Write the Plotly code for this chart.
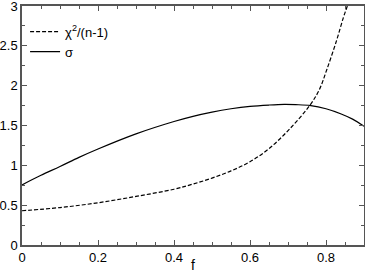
import plotly.graph_objects as go

# chi^2/(n-1) curve (dashed)
f_chi = [0, 0.1, 0.2, 0.3, 0.4, 0.45, 0.5, 0.55, 0.6, 0.65, 0.705, 0.758,
         0.782, 0.802, 0.828, 0.846, 0.856, 0.87]
chi = [0.43, 0.47, 0.53, 0.61, 0.70, 0.765, 0.84, 0.93, 1.045, 1.21, 1.46, 1.757,
       1.945, 2.2, 2.57, 2.86, 3.0, 3.25]

# sigma curve (solid)
f_sig = [0, 0.05, 0.1, 0.15, 0.2, 0.3, 0.4, 0.45, 0.5, 0.55, 0.6, 0.65, 0.69,
         0.72, 0.76, 0.8, 0.84, 0.87, 0.9]
sigma = [0.755, 0.875, 0.985, 1.10, 1.205, 1.395, 1.55, 1.615, 1.668, 1.71, 1.74, 1.757, 1.765,
         1.762, 1.75, 1.71, 1.645, 1.58, 1.49]

font = "Liberation Sans, Arial"

fig = go.Figure()
fig.add_trace(go.Scatter(x=f_chi, y=chi, mode="lines", name="χ<sup>2</sup>/(n-1)",
                         line=dict(color="black", width=1.2, dash="4px,2px", shape="spline")))
fig.add_trace(go.Scatter(x=f_sig, y=sigma, mode="lines", name="σ",
                         line=dict(color="black", width=1.2, shape="spline")))

axis_style = dict(showgrid=False, zeroline=False, showline=True, linecolor="#555",
                  linewidth=1.5, mirror="allticks", ticks="inside", ticklen=5,
                  tickcolor="#555", tickwidth=1, automargin=False,
                  ticklabeloverflow="allow",
                  tickfont=dict(family=font, size=13, color="black"))

fig.update_xaxes(range=[0, 0.9], dtick=0.2, tick0=0,
                 minor=dict(dtick=0.05, ticks="inside", ticklen=3, tickcolor="#555"),
                 title=dict(text="f", standoff=0, font=dict(family=font, size=14, color="black")),
                 **axis_style)
fig.update_yaxes(range=[0, 3], dtick=0.5, tick0=0,
                 minor=dict(dtick=0.25, ticks="inside", ticklen=3, tickcolor="#555"),
                 **axis_style)

fig.update_layout(
    width=365, height=273,
    margin=dict(l=22, r=1, t=6, b=28),
    plot_bgcolor="white", paper_bgcolor="white",
    legend=dict(x=0.009, y=0.955, xanchor="left", yanchor="top",
                bgcolor="rgba(0,0,0,0)", tracegroupgap=0, itemwidth=30,
                font=dict(family=font, size=13, color="black")),
)

fig.write_html("out.html", config={"displayModeBar": False},
               post_script="document.body.style.margin='0';document.body.style.overflow='hidden';")
